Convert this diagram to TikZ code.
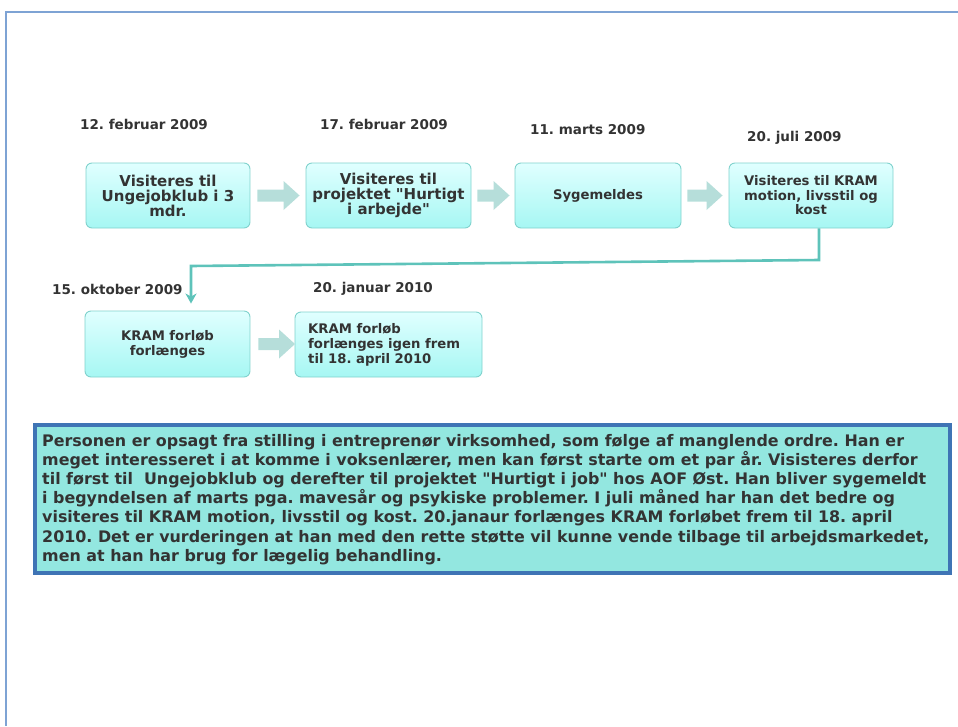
\documentclass[tikz,border=0pt]{standalone}
\usepackage{fontspec}
\newfontfamily\dvs{DejaVu Sans}
\usetikzlibrary{arrows.meta,calc}
\definecolor{frame}{HTML}{7EA3D4}
\definecolor{boxtop}{HTML}{E0FFFF}
\definecolor{boxbot}{HTML}{A6F7F3}
\definecolor{boxline}{HTML}{80D2CD}
\definecolor{arrowfill}{HTML}{B6DEDA}
\definecolor{conn}{HTML}{5EC3BA}
\definecolor{txt}{HTML}{333333}
\definecolor{notefill}{HTML}{93E7E0}
\definecolor{noteline}{HTML}{3F74B5}
\newcommand{\blockarr}[4]{%
  \path ($(#1.east)+(#3,0)$) coordinate (s) ($(#2.west)+(-#4,0)$) coordinate (e);
  \fill[arrowfill] let \p1=(s), \p2=(e) in
    (\x1,\y1+6pt) -- (\x2-16pt,\y1+6pt) -- (\x2-16pt,\y1+14.5pt) -- (\x2,\y1)
    -- (\x2-16pt,\y1-14.5pt) -- (\x2-16pt,\y1-6pt) -- (\x1,\y1-6pt) -- cycle;}
\begin{document}
\frenchspacing
\begin{tikzpicture}[x=1pt,y=-1pt,
  stepbox/.style={draw=boxline, line width=0.9pt, rounded corners=6pt,
    top color=boxtop, bottom color=boxbot, text=txt, align=center,
    inner sep=2pt, font=\dvs\bfseries\fontsize{15}{15}\selectfont},
  smallbox/.style={stepbox, font=\dvs\bfseries\fontsize{13.2}{14.5}\selectfont},
  datelbl/.style={anchor=west, inner sep=0, text=txt, font=\dvs\bfseries\fontsize{13.5}{15}\selectfont}]
\useasboundingbox (0,0) rectangle (958,726);
% page frame
\draw[frame, line width=1.5pt] (958,12) -- (6,12) -- (6,726);
% dates
\node[datelbl] (d1) at (80,124) {12. februar 2009};
\node[datelbl] (d2) at (320,124) {17. februar 2009};
\node[datelbl] (d3) at (530,130) {11. marts 2009};
\node[datelbl] (d4) at (747,138) {20. juli 2009};
\node[datelbl] (d5) at (52,289) {15. oktober 2009};
\node[datelbl] (d6) at (313,289) {20. januar 2010};
% boxes
\node[stepbox, minimum width=164, minimum height=65] (b1) at (168,195.5)
  {Visiteres til\\Ungejobklub i 3\\mdr.};
\node[stepbox, minimum width=165, minimum height=65] (b2) at (388.5,195.5)
  {Visiteres til\\projektet "Hurtigt\\i arbejde"};
\node[smallbox, minimum width=166, minimum height=65] (b3) at (598,195.5)
  {Sygemeldes};
\node[smallbox, minimum width=164, minimum height=65] (b4) at (811,195.5)
  {Visiteres til KRAM\\motion, livsstil og\\kost};
\node[smallbox, minimum width=165, minimum height=66,
  font=\dvs\bfseries\fontsize{13.2}{15}\selectfont] (b5) at (167.5,344)
  {KRAM forløb\\forlænges};
\draw[boxline, line width=0.9pt, rounded corners=6pt, top color=boxtop, bottom color=boxbot]
  (295,312) rectangle (482,377);
\node[anchor=north west, inner sep=0, align=left, text=txt,
  font=\dvs\bfseries\fontsize{13.2}{15}\selectfont] (b6) at (308,323)
  {KRAM forløb\\forlænges igen frem\\til 18. april 2010};
\coordinate (b6w) at (295,344.5);
% block arrows
\blockarr{b1}{b2}{7}{6}
\blockarr{b2}{b3}{6}{5}
\blockarr{b3}{b4}{6}{6}
\path ($(b5.east)+(8,0)$) coordinate (s5) (b6w) coordinate (e5);
\fill[arrowfill] let \p1=(s5), \p2=(e5) in
    (\x1,\y1+6pt) -- (\x2-16pt,\y1+6pt) -- (\x2-16pt,\y1+14.5pt) -- (\x2,\y1)
    -- (\x2-16pt,\y1-14.5pt) -- (\x2-16pt,\y1-6pt) -- (\x1,\y1-6pt) -- cycle;
% connector
\coordinate (c1) at (819,260);
\coordinate (c2) at (191,266);
\draw[conn, line width=2.6pt, -{Stealth[length=10pt,width=11pt,inset=3pt]}, shorten >=7pt]
  (b4.south -| c1) -- (c1) -- (c2) -- (c2 |- b5.north);
% note
\node[draw=noteline, line width=3.5pt, fill=notefill, minimum width=915, minimum height=148,
  anchor=north west, inner sep=0] (note) at (33,423) {};
\node[anchor=base west, inner sep=0, align=left, text=txt,
  font=\dvs\bfseries\fontsize{15.9}{19.2}\selectfont] (notetext) at (42,561.2)
{Personen er opsagt fra stilling i entreprenør virksomhed, som følge af manglende ordre. Han er\\
meget interesseret i at komme i voksenlærer, men kan først starte om et par år. Visisteres derfor\\
til først til~ Ungejobklub og derefter til projektet "Hurtigt i job" hos AOF Øst. Han bliver sygemeldt\\
i begyndelsen af marts pga. mavesår og psykiske problemer. I juli måned har han det bedre og\\
visiteres til KRAM motion, livsstil og kost. 20.janaur forlænges KRAM forløbet frem til 18. april\\
2010. Det er vurderingen at han med den rette støtte vil kunne vende tilbage til arbejdsmarkedet,\\
men at han har brug for lægelig behandling.};
\end{tikzpicture}
\end{document}
